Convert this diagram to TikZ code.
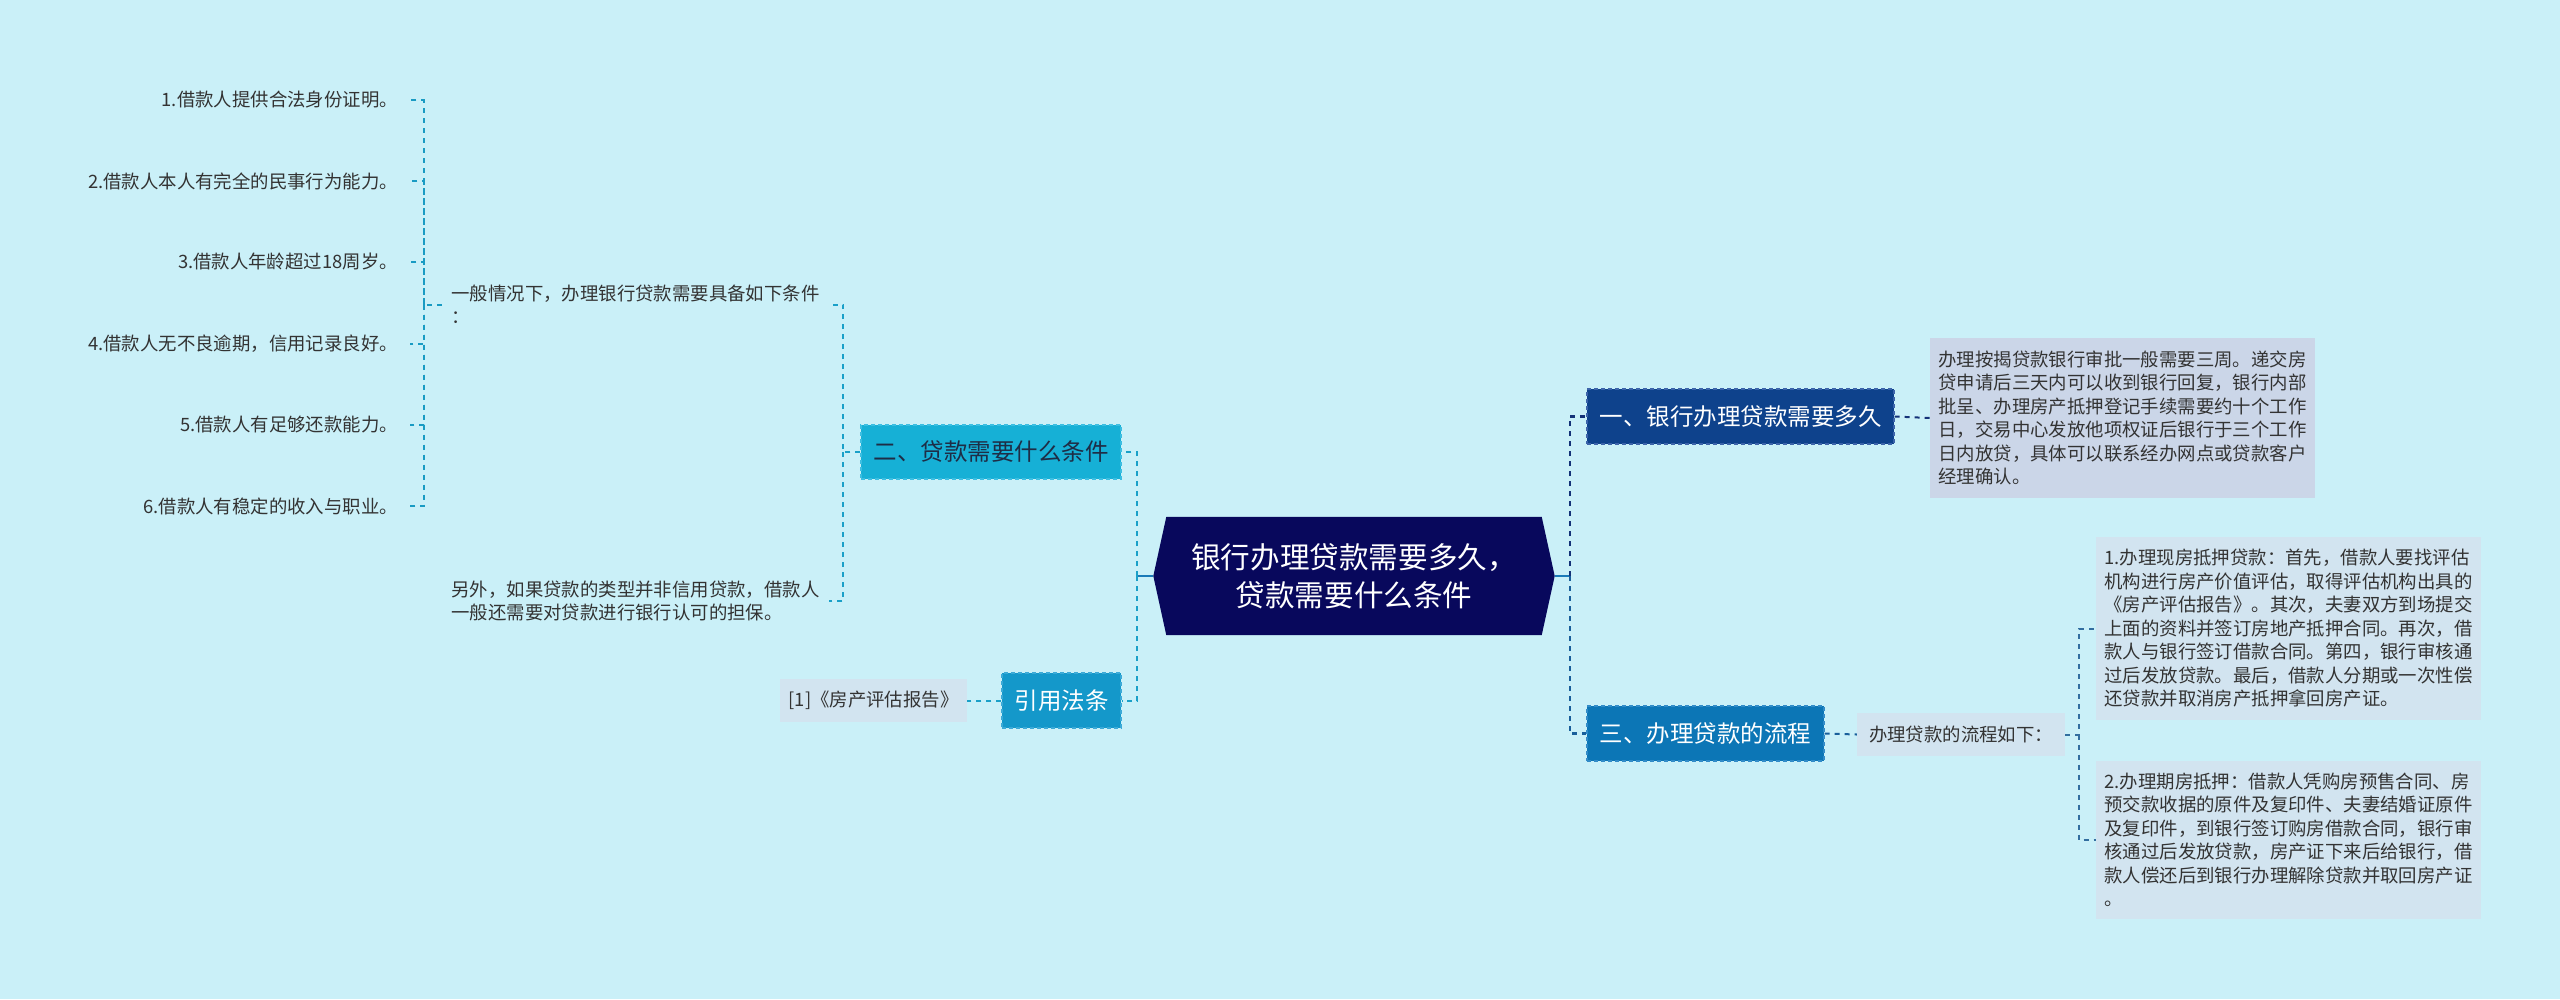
\documentclass[tikz,border=0pt]{standalone}
\usepackage{fontspec}
\setmainfont{Noto Sans CJK SC}
\usetikzlibrary{calc}
\pgfdeclarelayer{bg}
\pgfsetlayers{bg,main}
\definecolor{bgc}{RGB}{202,240,248}
\definecolor{navy}{RGB}{8,8,92}
\definecolor{bAc}{RGB}{14,66,140}
\definecolor{bAe}{RGB}{60,100,170}
\definecolor{bCc}{RGB}{12,118,182}
\definecolor{bCe}{RGB}{50,140,200}
\definecolor{bBc}{RGB}{22,176,214}
\definecolor{bBe}{RGB}{60,190,225}
\definecolor{bDc}{RGB}{20,152,202}
\definecolor{bDe}{RGB}{60,170,215}
\definecolor{txtd}{RGB}{51,51,51}
\definecolor{txtb}{RGB}{30,45,70}
\definecolor{dAc}{RGB}{203,214,232}
\definecolor{dCc}{RGB}{210,228,240}
\definecolor{lnL}{RGB}{26,160,200}
\definecolor{lnT}{RGB}{25,155,195}
\definecolor{lnRA}{RGB}{20,50,120}
\definecolor{lnRC}{RGB}{25,95,155}
\definecolor{lnD}{RGB}{50,110,160}
\definecolor{stub}{RGB}{26,122,184}
\tikzset{
  topicbox/.style={rectangle, draw, line width=1.2, dash pattern=on 4 off 3,
    inner sep=0, minimum height=55, font=\fontsize{23.5}{28}\selectfont},
  detailbox/.style={rectangle, inner sep=0, inner xsep=8.5, text width=368, align=left,
    font=\fontsize{18.4}{23.5}\selectfont, text=txtd},
  smallbox/.style={rectangle, inner sep=0, minimum height=43,
    font=\fontsize{18.4}{23.5}\selectfont, text=txtd},
  leaf/.style={inner sep=0, font=\fontsize{18.4}{23.5}\selectfont, text=txtd},
  conn/.style={line width=2, dash pattern=on 5 off 5},
  stubline/.style={line width=2.8, stub},
}
\begin{document}
\begin{tikzpicture}[x=1pt,y=-1pt]
\useasboundingbox (0,0) rectangle (2560,999);
\begin{pgfonlayer}{bg}
\fill[bgc] (0,0) rectangle (2560,999);
\end{pgfonlayer}

% central node
\node[rectangle, inner sep=0, minimum width=375, minimum height=118, text=white,
  align=center, font=\fontsize{29.6}{38}\selectfont] (c) at (1354,576)
  {银行办理贷款需要多久，\\贷款需要什么条件};
\coordinate (cR) at ($(c.east)+(13,0)$);
\coordinate (cL) at ($(c.west)+(-13,0)$);
\begin{pgfonlayer}{bg}
\fill[navy] (c.north west) -- (c.north east) -- (cR) -- (c.south east)
  -- (c.south west) -- (cL) -- cycle;
\end{pgfonlayer}

% right side
\node[topicbox, fill=bAc, draw=bAe, text=white, minimum width=307] (bA) at (1740.5,416.5)
  {一、银行办理贷款需要多久};
\node[topicbox, fill=bCc, draw=bCe, text=white, minimum width=237] (bC) at (1705.5,733.5)
  {三、办理贷款的流程};
\node[detailbox, fill=dAc, minimum height=160] (dA) at (2122.5,418)
  {办理按揭贷款银行审批一般需要三周。递交房\\贷申请后三天内可以收到银行回复，银行内部\\批呈、办理房产抵押登记手续需要约十个工作\\日，交易中心发放他项权证后银行于三个工作\\日内放贷，具体可以联系经办网点或贷款客户\\经理确认。};
\node[smallbox, fill=dCc, minimum width=208] (dC) at (1961,734.5) {办理贷款的流程如下：};
\node[detailbox, fill=dCc, minimum height=183] (dC1) at (2288.5,628.5)
  {1.办理现房抵押贷款：首先，借款人要找评估\\机构进行房产价值评估，取得评估机构出具的\\《房产评估报告》。其次，夫妻双方到场提交\\上面的资料并签订房地产抵押合同。再次，借\\款人与银行签订借款合同。第四，银行审核通\\过后发放贷款。最后，借款人分期或一次性偿\\还贷款并取消房产抵押拿回房产证。};
\node[detailbox, fill=dCc, minimum height=158] (dC2) at (2288.5,840)
  {2.办理期房抵押：借款人凭购房预售合同、房\\预交款收据的原件及复印件、夫妻结婚证原件\\及复印件，到银行签订购房借款合同，银行审\\核通过后发放贷款，房产证下来后给银行，借\\款人偿还后到银行办理解除贷款并取回房产证\\。};

% left side
\node[topicbox, fill=bBc, draw=bBe, text=txtb, minimum width=260, minimum height=54] (bB) at (991,452)
  {二、贷款需要什么条件};
\node[topicbox, fill=bDc, draw=bDe, text=white, minimum width=119] (bD) at (1061.5,700.5)
  {引用法条};
\node[smallbox, fill=dCc, minimum width=187] (r1) at (873.5,700.5) {[1]《房产评估报告》};
\node[leaf, text width=368, align=left, inner xsep=9.5] (t1) at (635.5,304.5)
  {一般情况下，办理银行贷款需要具备如下条件\\：};
\node[leaf, text width=368, align=left, inner xsep=9.5] (t2) at (635.5,601)
  {另外，如果贷款的类型并非信用贷款，借款人\\一般还需要对贷款进行银行认可的担保。};
\node[leaf, anchor=east, inner xsep=12] (i1) at (410,100) {1.借款人提供合法身份证明。};
\node[leaf, anchor=east, inner xsep=12] (i2) at (410,181) {2.借款人本人有完全的民事行为能力。};
\node[leaf, anchor=east, inner xsep=12] (i3) at (410,262) {3.借款人年龄超过18周岁。};
\node[leaf, anchor=east, inner xsep=12] (i4) at (410,344) {4.借款人无不良逾期，信用记录良好。};
\node[leaf, anchor=east, inner xsep=12] (i5) at (410,425) {5.借款人有足够还款能力。};
\node[leaf, anchor=east, inner xsep=12] (i6) at (410,506) {6.借款人有稳定的收入与职业。};

% connectors right
\coordinate (jR) at ($(cR)+(15,0)$);
\draw[stubline] (cR) -- (jR);
\draw[conn, lnRA, line width=2.2] (jR) |- (bA.west);
\draw[conn, lnRC, line width=2.2] (jR) |- (bC.west);
\draw[conn, lnRA] (bA.east) -- (dA.west);
\draw[conn, lnRC] (bC.east) -- (dC.west);
\coordinate (jC) at ($(dC.east)+(14,0)$);
\draw[conn, lnD] (dC.east) -- (jC) |- (dC1.west);
\draw[conn, lnD] (jC) |- (dC2.west);

% connectors left
\coordinate (jL) at ($(cL)+(-16,0)$);
\draw[stubline] (cL) -- (jL);
\draw[conn, lnL] (jL) |- (bB.east);
\draw[conn, lnL] (jL) |- (bD.east);
\draw[conn, lnL] (bD.west) -- (r1.east);
\coordinate (jB) at ($(bB.west)+(-17,0)$);
\draw[conn, lnL] (bB.west) -- (jB) |- (t1.east);
\draw[conn, lnL] (jB) |- (t2.east);
\coordinate (jT) at ($(t1.west)+(-18,0)$);
\draw[conn, lnT] (t1.west) -- (jT) |- (i1.east);
\draw[conn, lnT] (jT) |- (i2.east);
\draw[conn, lnT] (jT) |- (i3.east);
\draw[conn, lnT] (jT) |- (i4.east);
\draw[conn, lnT] (jT) |- (i5.east);
\draw[conn, lnT] (jT) |- (i6.east);
\end{tikzpicture}
\end{document}
